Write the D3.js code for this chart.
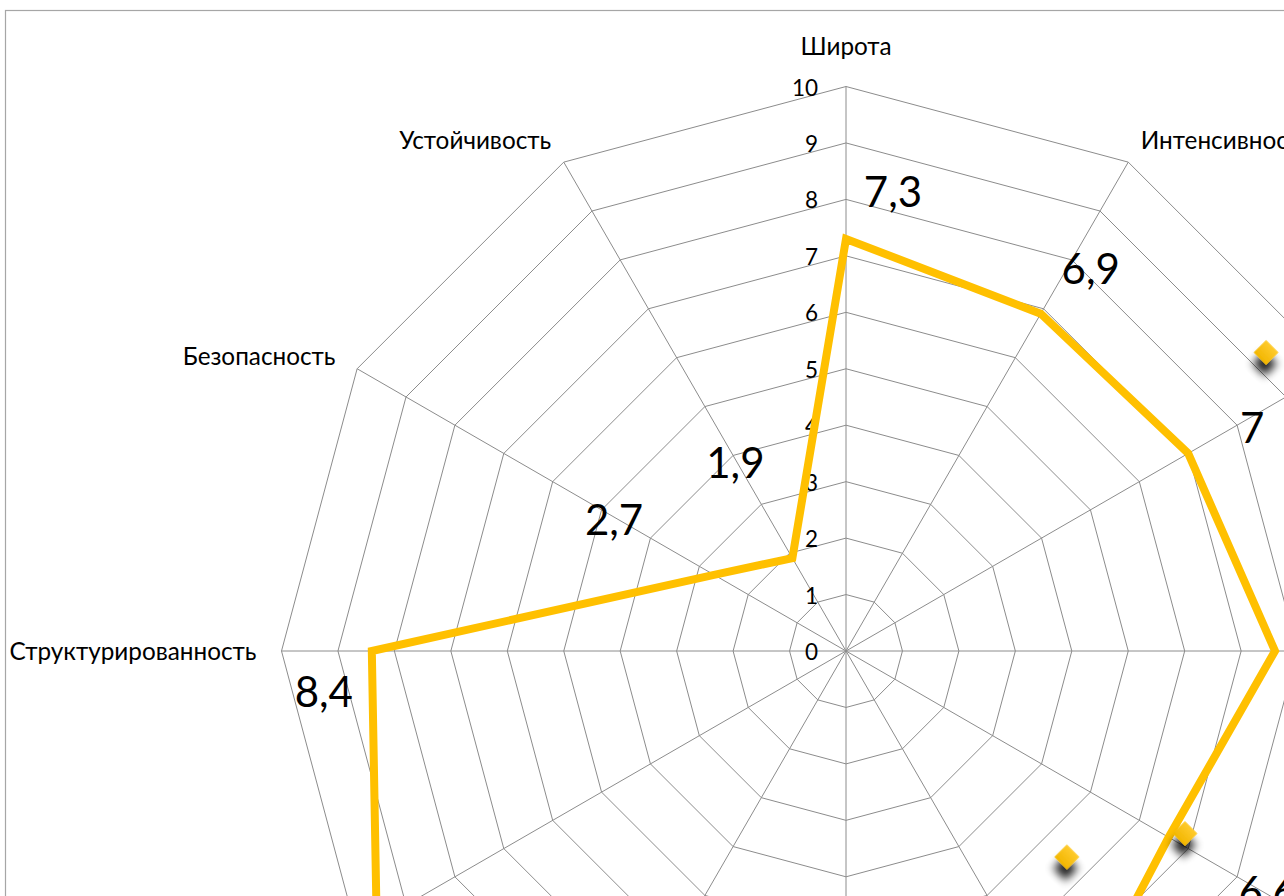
<!DOCTYPE html>
<html>
<head>
<meta charset="utf-8">
<script src="https://cdn.jsdelivr.net/npm/d3@7/dist/d3.min.js"></script>
<style>
  html, body { margin: 0; padding: 0; background: #ffffff; overflow: hidden; }
  svg { display: block; }
</style>
</head>
<body>
<svg id="chart" width="1284" height="896"></svg>
<script>
// ---- data ----
const categories = ["Широта", "Интенсивность", "Осознаваемость", "Обобщенность",
  "Эмоциональность", "Доминантность", "Когерентность", "Социальная активность",
  "Мобильность", "Структурированность", "Безопасность", "Устойчивость"];
const values = [7.3, 6.9, 7.0, 7.6, 6.6, 7.8, 8.0, 8.7, 9.6, 8.4, 2.7, 1.9];
const valueLabels = ["7,3", "6,9", "7", "7,6", "6,6", "7,8", "8", "8,7", "9,6", "8,4", "2,7", "1,9"];
const tickValues = [0, 1, 2, 3, 4, 5, 6, 7, 8, 9, 10];
const tickLabels = ["0", "1", "2", "3", "4", "5", "6", "7", "8", "9", "10"];
// separate marker-only points (angle in degrees clockwise from top, value on radial scale)
const markerAngles = [54.6, 118.3, 133.0];
const markerValues = [9.13, 6.82, 5.35];

// ---- layout (not data) ----
const labelOffsets = [[47, -32], [50, -30], [64, -10], [48, -32], [99, 70], [60, 70],
  [60, 70], [-48, 70], [-48, 70], [-48, 56], [-100, -40], [-57, -80]];

const W = 1284, H = 896;
const cx = 846, cy = 651;
const svg = d3.select("#chart");
const font = "Lato, 'Open Sans', sans-serif";

// frame
svg.append("rect").attr("x", 5.5).attr("y", 10.5).attr("width", 1400).attr("height", 1000)
  .attr("fill", "#ffffff").attr("stroke", "#a6a6a6").attr("stroke-width", 1.2);

const r = d3.scaleLinear().domain([0, 10]).range([0, 564.5]);
const ang = d3.scaleLinear().domain([0, categories.length]).range([0, 2 * Math.PI]);

const g = svg.append("g").attr("transform", `translate(${cx},${cy})`);

const defs = svg.append("defs");
const sh = defs.append("filter").attr("id", "shadow").attr("x", "-100%").attr("y", "-100%")
  .attr("width", "300%").attr("height", "300%");
sh.append("feGaussianBlur").attr("in", "SourceAlpha").attr("stdDeviation", 4).attr("result", "b");
sh.append("feOffset").attr("in", "b").attr("dx", 7).attr("dy", 9).attr("result", "o");
sh.append("feComponentTransfer").attr("in", "o").attr("result", "o2")
  .append("feFuncA").attr("type", "linear").attr("slope", 0.85);
const mg = sh.append("feMerge");
mg.append("feMergeNode").attr("in", "o2");
mg.append("feMergeNode").attr("in", "SourceGraphic");

const grad = defs.append("linearGradient").attr("id", "mgrad")
  .attr("x1", "0").attr("y1", "0").attr("x2", "0").attr("y2", "1");
grad.append("stop").attr("offset", "0").attr("stop-color", "#FFCB2E");
grad.append("stop").attr("offset", "1").attr("stop-color", "#F2B600");

// rings
const ring = d3.lineRadial().angle((d, i) => ang(i)).radius(d => r(d)).curve(d3.curveLinearClosed);
g.selectAll("path.ring").data(tickValues.slice(1)).join("path")
  .attr("class", "ring")
  .attr("d", t => ring(categories.map(() => t)))
  .attr("fill", "none").attr("stroke", "#8c8c8c").attr("stroke-width", 1);

// spokes
g.selectAll("line.spoke").data(categories).join("line")
  .attr("class", "spoke")
  .attr("x1", 0).attr("y1", 0)
  .attr("x2", (d, i) => r(10) * Math.sin(ang(i)))
  .attr("y2", (d, i) => -r(10) * Math.cos(ang(i)))
  .attr("stroke", "#8c8c8c").attr("stroke-width", 1);

// tick labels
g.selectAll("text.tick").data(tickValues).join("text")
  .attr("class", "tick")
  .attr("x", -28).attr("y", d => -r(d) + 9)
  .attr("text-anchor", "end")
  .attr("font-family", font).attr("font-size", 22.5).attr("fill", "#000")
  .text((d, i) => tickLabels[i]);

// category labels
g.selectAll("text.cat").data(categories).join("text")
  .attr("class", "cat")
  .attr("x", (d, i) => (r(10) + 25) * Math.sin(ang(i)))
  .attr("y", (d, i) => {
    const c = Math.cos(ang(i));
    let y = -(r(10) + 25) * c;
    if (Math.abs(Math.sin(ang(i))) < 0.1) y -= 16 * Math.sign(c);
    return y + 9;
  })
  .attr("text-anchor", (d, i) => {
    const s = Math.sin(ang(i));
    return s > 0.1 ? "start" : (s < -0.1 ? "end" : "middle");
  })
  .attr("font-family", font).attr("font-size", 24.3).attr("fill", "#000")
  .text(d => d);

// series line
const line = d3.lineRadial().angle((d, i) => ang(i)).radius(d => r(d)).curve(d3.curveLinearClosed);
g.append("path").datum(values)
  .attr("d", line)
  .attr("fill", "none").attr("stroke", "#FFC000").attr("stroke-width", 8)
  .attr("stroke-linejoin", "miter").attr("stroke-miterlimit", 10);

// marker-only points
const diamond = d3.symbol().type(d3.symbolSquare).size(310);
g.selectAll("path.mk").data(markerValues).join("path")
  .attr("class", "mk")
  .attr("transform", (d, i) => {
    const a = markerAngles[i] * Math.PI / 180;
    return `translate(${r(d) * Math.sin(a)},${-r(d) * Math.cos(a)}) rotate(45)`;
  })
  .attr("d", diamond)
  .attr("fill", "url(#mgrad)").attr("filter", "url(#shadow)");

// data labels
g.selectAll("text.val").data(values).join("text")
  .attr("class", "val")
  .attr("x", (d, i) => r(d) * Math.sin(ang(i)) + labelOffsets[i][0])
  .attr("y", (d, i) => -r(d) * Math.cos(ang(i)) + labelOffsets[i][1])
  .attr("text-anchor", "middle")
  .attr("font-family", font).attr("font-size", 42).attr("fill", "#000")
  .text((d, i) => valueLabels[i]);
</script>
</body>
</html>
